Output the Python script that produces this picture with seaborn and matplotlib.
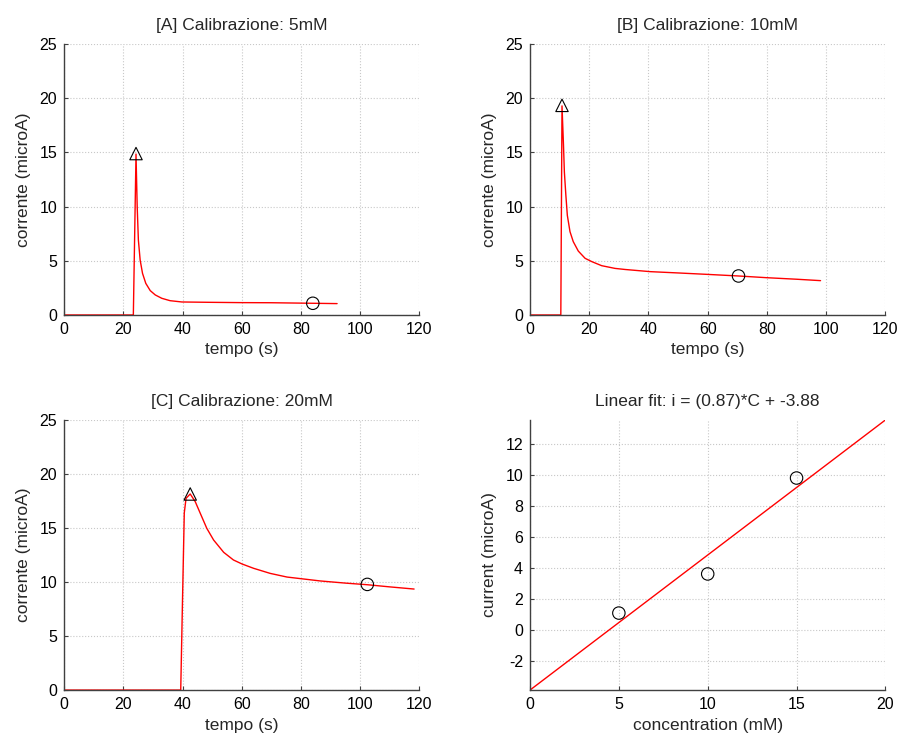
import numpy as np
import matplotlib
matplotlib.use("Agg")
import matplotlib.pyplot as plt
import seaborn as sns

# ---- data ----
# [A] 5 mM
time_a = [0, 23.4, 24.3, 24.7, 25.1, 25.7, 26.5, 27.6, 29.1, 30.8, 33.0, 35.8, 39.8,
          48.8, 60.0, 70.0, 84.0, 92.2]
curr_a = [0, 0, 14.85, 10.0, 6.92, 5.07, 3.84, 2.92, 2.25, 1.85, 1.54, 1.32, 1.2,
          1.17, 1.14, 1.13, 1.08, 1.05]
# [B] 10 mM
time_b = [0, 10.4, 10.8, 11.3, 11.6, 12.1, 12.6, 13.5, 14.6, 16.3, 18.6, 20.9, 24.2,
          28.7, 32.1, 40.6, 50.0, 59.7, 70.4, 80.0, 90.0, 98.1]
curr_b = [0, 0, 19.3, 15.7, 13.2, 11.07, 9.2, 7.69, 6.77, 5.9, 5.23, 4.92, 4.55,
          4.3, 4.2, 4.0, 3.88, 3.75, 3.6, 3.44, 3.30, 3.17]
# [C] 20 mM
time_c = [0, 39.4, 40.0, 40.6, 41.2, 42.6, 44.3, 46.0, 48.2, 50.5, 53.9, 57.2, 60.1,
          64.0, 69.6, 75.3, 80.9, 86.5, 95.0, 102.4, 110.0, 118.2]
curr_c = [0, 0, 8.3, 16.4, 17.75, 18.15, 17.44, 16.36, 14.97, 13.89, 12.75, 12.04, 11.67,
          11.27, 10.8, 10.46, 10.28, 10.1, 9.9, 9.75, 9.55, 9.35]

# peak (triangle) and steady-state (circle) markers
peak_t = [24.3, 10.8, 42.6]
peak_i = [14.9, 19.35, 18.15]
ss_t = [84.0, 70.4, 102.4]
ss_i = [1.08, 3.6, 9.78]

# calibration
conc = [5, 10, 15]
fit_range = [0, 20]

titles = ["[A] Calibrazione: 5mM", "[B] Calibrazione: 10mM", "[C] Calibrazione: 20mM"]

sns.set_style("ticks")
plt.rcParams["font.family"] = ["Liberation Sans", "DejaVu Sans"]
plt.rcParams["xtick.direction"] = "in"
plt.rcParams["ytick.direction"] = "in"
plt.rcParams["axes.unicode_minus"] = False

fig = plt.figure(figsize=(9.02, 7.42), dpi=100)
positions = [
    [0.071, 0.5755, 0.394, 0.365],
    [0.5876, 0.5755, 0.394, 0.365],
    [0.071, 0.070, 0.394, 0.364],
    [0.5876, 0.070, 0.394, 0.364],
]
axes = [fig.add_axes(p) for p in positions]

TICK_FS = 11.5
LABEL_FS = 12.5


def style(ax):
    ax.grid(True, linestyle=":", color="#c8c8c8", linewidth=0.8)
    ax.set_axisbelow(True)
    for s in ["top", "right"]:
        ax.spines[s].set_visible(False)
    for s in ["left", "bottom"]:
        ax.spines[s].set_color("#404040")
        ax.spines[s].set_linewidth(1.0)
    ax.tick_params(labelsize=TICK_FS, length=3, color="#404040", labelcolor="black", pad=5)


curves = [(time_a, curr_a), (time_b, curr_b), (time_c, curr_c)]
for k, ax in enumerate(axes[:3]):
    t, c = curves[k]
    sns.lineplot(x=t, y=c, ax=ax, color="red", linewidth=1.0, sort=False, estimator=None)
    sns.scatterplot(x=[peak_t[k]], y=[peak_i[k]], ax=ax, marker="^", s=80,
                    facecolor="none", edgecolor="black", linewidth=0.8, zorder=5)
    sns.scatterplot(x=[ss_t[k]], y=[ss_i[k]], ax=ax, marker="o", s=80,
                    facecolor="none", edgecolor="black", linewidth=0.8, zorder=5)
    ax.set_xlim(0, 120)
    ax.set_ylim(0, 25)
    ax.set_xticks(np.arange(0, 121, 20))
    ax.set_yticks(np.arange(0, 26, 5))
    ax.set_title(titles[k], fontsize=LABEL_FS, pad=10)
    ax.set_xlabel("tempo (s)", fontsize=LABEL_FS, labelpad=4)
    ax.set_ylabel("corrente (microA)", fontsize=LABEL_FS, labelpad=6)
    style(ax)

# linear fit of steady-state current vs concentration
ax = axes[3]
slope, intercept = np.polyfit(conc, ss_i, 1)
fit_x = np.array(fit_range)
fit_y = slope * fit_x + intercept
sns.lineplot(x=fit_x, y=fit_y, ax=ax, color="red", linewidth=1.0)
sns.scatterplot(x=conc, y=ss_i, ax=ax, marker="o", s=80,
                facecolor="none", edgecolor="black", linewidth=0.8, zorder=5)
ax.set_xlim(fit_range)
ax.set_ylim(fit_y.min(), fit_y.max())
ax.set_xticks(np.arange(0, 21, 5))
ax.set_yticks(np.arange(-2, 13, 2))
ax.set_title(f"Linear fit: i = ({slope:.2f})*C + {intercept:.2f}", fontsize=LABEL_FS, pad=10)
ax.set_xlabel("concentration (mM)", fontsize=LABEL_FS, labelpad=4)
ax.set_ylabel("current (microA)", fontsize=LABEL_FS, labelpad=6)
style(ax)

fig.savefig("out.png", dpi=100)
